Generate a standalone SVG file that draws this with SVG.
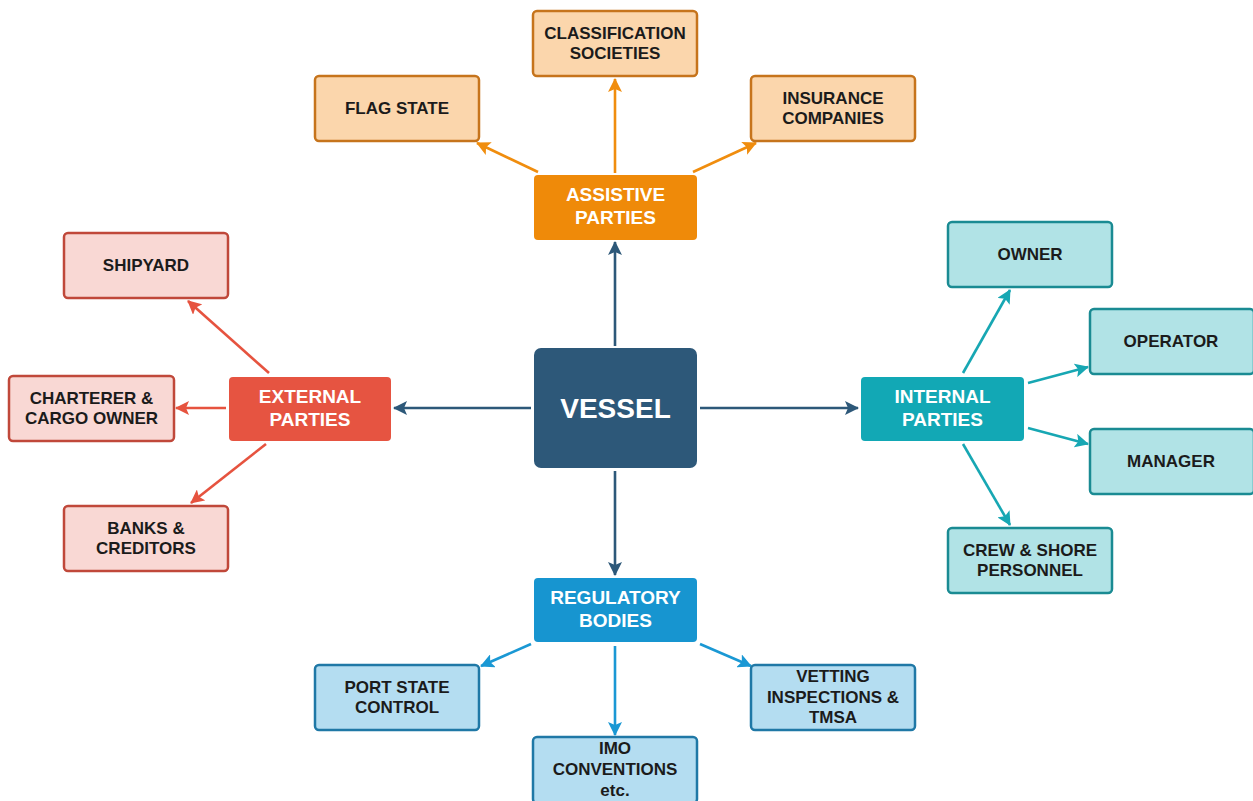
<svg xmlns="http://www.w3.org/2000/svg" width="1253" height="801" viewBox="0 0 1253 801">
  <style>
    text { font-family: "Liberation Sans", Arial, sans-serif; font-weight: bold; text-anchor: middle; }
    .child { font-size: 17px; fill: #1b1b1b; }
    .parent { font-size: 19px; fill: #ffffff; }
    .hub { font-size: 28px; fill: #ffffff; }
    .box { stroke-width: 2.5; }
    .ast-c { fill: #fbd6ac; stroke: #c6741c; }
    .ext-c { fill: #f9d8d4; stroke: #c0483a; }
    .int-c { fill: #b1e3e6; stroke: #1a8b93; }
    .reg-c { fill: #b4ddf1; stroke: #1f78a6; }
    .ln { fill: none; stroke-width: 2.6; }
  </style>
  <defs>
    <marker id="ah-main" markerUnits="userSpaceOnUse" markerWidth="14" markerHeight="14" refX="13" refY="7" orient="auto"><path d="M0,0 L14,7 L0,14 L3,7 z" fill="#2d5879"/></marker>
    <marker id="ah-ast" markerUnits="userSpaceOnUse" markerWidth="14" markerHeight="14" refX="13" refY="7" orient="auto"><path d="M0,0 L14,7 L0,14 L3,7 z" fill="#f08d0e"/></marker>
    <marker id="ah-ext" markerUnits="userSpaceOnUse" markerWidth="14" markerHeight="14" refX="13" refY="7" orient="auto"><path d="M0,0 L14,7 L0,14 L3,7 z" fill="#e6533f"/></marker>
    <marker id="ah-int" markerUnits="userSpaceOnUse" markerWidth="14" markerHeight="14" refX="13" refY="7" orient="auto"><path d="M0,0 L14,7 L0,14 L3,7 z" fill="#17a7b3"/></marker>
    <marker id="ah-reg" markerUnits="userSpaceOnUse" markerWidth="14" markerHeight="14" refX="13" refY="7" orient="auto"><path d="M0,0 L14,7 L0,14 L3,7 z" fill="#1a98d4"/></marker>
  </defs>

  <rect width="1253" height="801" fill="#ffffff"/>

  <!-- connectors -->
  <g id="connectors">
    <g stroke="#2d5879" class="ln" marker-end="url(#ah-main)">
      <line x1="615" y1="346" x2="615" y2="242"/>
      <line x1="531" y1="408" x2="394" y2="408"/>
      <line x1="700" y1="408" x2="858" y2="408"/>
      <line x1="615" y1="471" x2="615" y2="575"/>
    </g>
    <g stroke="#f08d0e" class="ln" marker-end="url(#ah-ast)">
      <line x1="615" y1="173" x2="615" y2="79"/>
      <line x1="538" y1="172" x2="477" y2="143"/>
      <line x1="693" y1="172" x2="756" y2="143"/>
    </g>
    <g stroke="#e6533f" class="ln" marker-end="url(#ah-ext)">
      <line x1="269" y1="373" x2="188" y2="301"/>
      <line x1="226" y1="408" x2="176" y2="408"/>
      <line x1="266" y1="444" x2="191" y2="503"/>
    </g>
    <g stroke="#17a7b3" class="ln" marker-end="url(#ah-int)">
      <line x1="963" y1="373" x2="1010" y2="290"/>
      <line x1="1028" y1="383" x2="1088" y2="367"/>
      <line x1="1028" y1="428" x2="1088" y2="444"/>
      <line x1="963" y1="444" x2="1010" y2="525"/>
    </g>
    <g stroke="#1a98d4" class="ln" marker-end="url(#ah-reg)">
      <line x1="531" y1="644" x2="481" y2="666"/>
      <line x1="615" y1="646" x2="615" y2="735"/>
      <line x1="700" y1="644" x2="751" y2="666"/>
    </g>
  </g>

  <!-- hub -->
  <g id="vessel">
    <rect x="534" y="348" width="163" height="120" rx="7" fill="#2d5879"/>
    <text class="hub" x="615.5" y="418">VESSEL</text>
  </g>

  <!-- assistive parties -->
  <g id="assistive">
    <rect x="534" y="175" width="163" height="65" rx="4" fill="#ef8a09"/>
    <text class="parent" x="615.5" y="201">ASSISTIVE</text>
    <text class="parent" x="615.5" y="224">PARTIES</text>
  </g>
  <g id="classification">
    <rect class="box ast-c" x="533" y="11" width="164" height="65" rx="4"/>
    <text class="child" x="615" y="39">CLASSIFICATION</text>
    <text class="child" x="615" y="59">SOCIETIES</text>
  </g>
  <g id="flag-state">
    <rect class="box ast-c" x="315" y="76" width="164" height="65" rx="4"/>
    <text class="child" x="397" y="114">FLAG STATE</text>
  </g>
  <g id="insurance">
    <rect class="box ast-c" x="751" y="76" width="164" height="65" rx="4"/>
    <text class="child" x="833" y="104">INSURANCE</text>
    <text class="child" x="833" y="124">COMPANIES</text>
  </g>

  <!-- external parties -->
  <g id="external">
    <rect x="229" y="377" width="162" height="64" rx="4" fill="#e65441"/>
    <text class="parent" x="310" y="403">EXTERNAL</text>
    <text class="parent" x="310" y="426">PARTIES</text>
  </g>
  <g id="shipyard">
    <rect class="box ext-c" x="64" y="233" width="164" height="65" rx="4"/>
    <text class="child" x="146" y="271">SHIPYARD</text>
  </g>
  <g id="charterer">
    <rect class="box ext-c" x="9" y="376" width="165" height="65" rx="4"/>
    <text class="child" x="91.5" y="404">CHARTERER &amp;</text>
    <text class="child" x="91.5" y="424">CARGO OWNER</text>
  </g>
  <g id="banks">
    <rect class="box ext-c" x="64" y="506" width="164" height="65" rx="4"/>
    <text class="child" x="146" y="534">BANKS &amp;</text>
    <text class="child" x="146" y="554">CREDITORS</text>
  </g>

  <!-- internal parties -->
  <g id="internal">
    <rect x="861" y="377" width="163" height="64" rx="4" fill="#12a8b5"/>
    <text class="parent" x="942.5" y="403">INTERNAL</text>
    <text class="parent" x="942.5" y="426">PARTIES</text>
  </g>
  <g id="owner">
    <rect class="box int-c" x="948" y="222" width="164" height="65" rx="4"/>
    <text class="child" x="1030" y="260">OWNER</text>
  </g>
  <g id="operator">
    <rect class="box int-c" x="1090" y="309" width="164" height="65" rx="4"/>
    <text class="child" x="1171" y="347">OPERATOR</text>
  </g>
  <g id="manager">
    <rect class="box int-c" x="1090" y="429" width="164" height="65" rx="4"/>
    <text class="child" x="1171" y="467">MANAGER</text>
  </g>
  <g id="crew">
    <rect class="box int-c" x="948" y="528" width="164" height="65" rx="4"/>
    <text class="child" x="1030" y="556">CREW &amp; SHORE</text>
    <text class="child" x="1030" y="576">PERSONNEL</text>
  </g>

  <!-- regulatory bodies -->
  <g id="regulatory">
    <rect x="534" y="578" width="163" height="64" rx="4" fill="#1795d0"/>
    <text class="parent" x="615.5" y="604">REGULATORY</text>
    <text class="parent" x="615.5" y="627">BODIES</text>
  </g>
  <g id="port-state">
    <rect class="box reg-c" x="315" y="665" width="164" height="65" rx="4"/>
    <text class="child" x="397" y="693">PORT STATE</text>
    <text class="child" x="397" y="713">CONTROL</text>
  </g>
  <g id="imo">
    <rect class="box reg-c" x="533" y="737" width="164" height="66" rx="4"/>
    <text class="child" x="615" y="754">IMO</text>
    <text class="child" x="615" y="775">CONVENTIONS</text>
    <text class="child" x="615" y="796">etc.</text>
  </g>
  <g id="vetting">
    <rect class="box reg-c" x="751" y="665" width="164" height="65" rx="4"/>
    <text class="child" x="833" y="682">VETTING</text>
    <text class="child" x="833" y="703">INSPECTIONS &amp;</text>
    <text class="child" x="833" y="723">TMSA</text>
  </g>
</svg>
